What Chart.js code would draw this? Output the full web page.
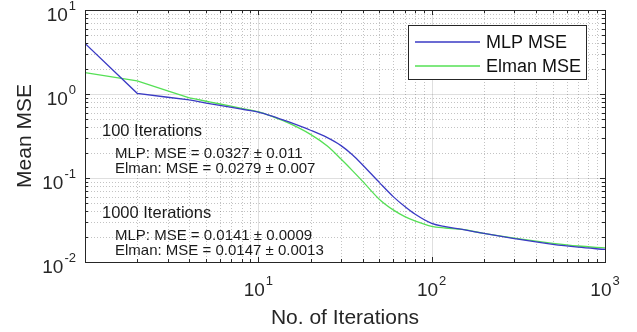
<!DOCTYPE html>
<html>
<head>
<meta charset="utf-8">
<script src="https://cdn.jsdelivr.net/npm/chart.js@4.4.0/dist/chart.umd.min.js"></script>
<style>
  html, body { margin: 0; padding: 0; background: #fff; }
  canvas { display: block; }
</style>
</head>
<body>
<canvas id="myChart" width="637" height="332"></canvas>
<script>
// values
const iterations = [1, 2, 3, 4, 5, 6, 8, 10, 12, 15, 20, 25, 30, 35, 40, 50, 60, 70, 80, 100, 120, 150, 200, 300, 500, 700, 1000];
const mlpMse   = [4.0, 1.02, 0.915, 0.85, 0.78, 0.73, 0.66, 0.61, 0.547, 0.465, 0.37, 0.302, 0.243, 0.188, 0.143, 0.088, 0.060, 0.0457, 0.0372, 0.0288, 0.0263, 0.0244, 0.0219, 0.0190, 0.0162, 0.0150, 0.0141];
const elmanMse = [1.8, 1.43, 1.09, 0.90, 0.82, 0.76, 0.676, 0.615, 0.54, 0.45, 0.331, 0.24, 0.168, 0.1216, 0.0912, 0.0556, 0.0417, 0.0347, 0.0309, 0.0266, 0.0254, 0.0244, 0.0219, 0.0192, 0.0167, 0.0155, 0.0147];
// the first few iterations are drawn as straight segments, the rest smooth
const straightUpTo = 3;

const seriesNames = ['MLP MSE', 'Elman MSE'];
const seriesColors = ['#3a3ac4', '#55e055'];

const xTickValues = [10, 100, 1000];
const xTickExps = ['1', '2', '3'];
const yTickValues = [0.01, 0.1, 1, 10];
const yTickExps = ['-2', '-1', '0', '1'];

const xTitle = 'No. of Iterations';
const yTitle = 'Mean MSE';

const noteHeads = ['100 Iterations', '1000 Iterations'];
const noteLines = [
  ['MLP: MSE = 0.0327 \u00b1 0.011', 'Elman: MSE = 0.0279 \u00b1 0.007'],
  ['MLP: MSE = 0.0141 \u00b1 0.0009', 'Elman: MSE = 0.0147 \u00b1 0.0013']
];

const FONT = '"Liberation Sans", Arial, Helvetica, sans-serif';
const TEXT = '#262626';

function minorValues(min, max) {
  let vals = [];
  for (let d = min; d < max * 0.999; d *= 10) {
    for (let k = 2; k <= 9; k++) vals.push(d * k);
  }
  return vals;
}

function crisp(v) { return Math.round(v) + 0.5; }

const matlabAxes = {
  id: 'matlabAxes',
  beforeDatasetsDraw(chart) {
    const ctx = chart.ctx, a = chart.chartArea;
    const xs = chart.scales.x, ys = chart.scales.y;
    ctx.save();
    // minor dotted grid
    ctx.strokeStyle = 'rgba(38,38,38,0.28)';
    ctx.lineWidth = 1;
    ctx.setLineDash([1, 2]);
    ctx.beginPath();
    minorValues(xs.min, xs.max).forEach(v => {
      const px = crisp(xs.getPixelForValue(v));
      ctx.moveTo(px, a.top); ctx.lineTo(px, a.bottom);
    });
    minorValues(ys.min, ys.max).forEach(v => {
      const py = crisp(ys.getPixelForValue(v));
      ctx.moveTo(a.left, py); ctx.lineTo(a.right, py);
    });
    ctx.stroke();
    // major grid
    ctx.setLineDash([]);
    ctx.strokeStyle = 'rgba(38,38,38,0.15)';
    ctx.beginPath();
    xTickValues.forEach(v => {
      const px = crisp(xs.getPixelForValue(v));
      ctx.moveTo(px, a.top); ctx.lineTo(px, a.bottom);
    });
    yTickValues.forEach(v => {
      const py = crisp(ys.getPixelForValue(v));
      ctx.moveTo(a.left, py); ctx.lineTo(a.right, py);
    });
    ctx.stroke();
    ctx.restore();
  },
  afterDatasetsDraw(chart) {
    const ctx = chart.ctx, a = chart.chartArea;
    const xs = chart.scales.x, ys = chart.scales.y;
    ctx.save();
    // box
    ctx.strokeStyle = TEXT;
    ctx.lineWidth = 1;
    ctx.strokeRect(crisp(a.left), crisp(a.top), Math.round(a.right - a.left), Math.round(a.bottom - a.top));

    // inward ticks on all four sides
    ctx.beginPath();
    const xMaj = [1].concat(xTickValues), yMaj = yTickValues;
    xMaj.forEach(v => {
      const px = crisp(xs.getPixelForValue(v));
      ctx.moveTo(px, a.bottom); ctx.lineTo(px, a.bottom - 5);
      ctx.moveTo(px, a.top); ctx.lineTo(px, a.top + 5);
    });
    minorValues(xs.min, xs.max).forEach(v => {
      const px = crisp(xs.getPixelForValue(v));
      ctx.moveTo(px, a.bottom); ctx.lineTo(px, a.bottom - 3);
      ctx.moveTo(px, a.top); ctx.lineTo(px, a.top + 3);
    });
    yMaj.forEach(v => {
      const py = crisp(ys.getPixelForValue(v));
      ctx.moveTo(a.left, py); ctx.lineTo(a.left + 5, py);
      ctx.moveTo(a.right, py); ctx.lineTo(a.right - 5, py);
    });
    minorValues(ys.min, ys.max).forEach(v => {
      const py = crisp(ys.getPixelForValue(v));
      ctx.moveTo(a.left, py); ctx.lineTo(a.left + 3, py);
      ctx.moveTo(a.right, py); ctx.lineTo(a.right - 3, py);
    });
    ctx.stroke();

    // tick labels as 10 with superscript exponent
    const baseFont = '19px ' + FONT, expFont = '13px ' + FONT;
    ctx.fillStyle = TEXT;
    ctx.textBaseline = 'alphabetic';
    ctx.textAlign = 'left';
    xTickValues.forEach((v, i) => {
      const px = xs.getPixelForValue(v);
      ctx.font = baseFont; const wb = ctx.measureText('10').width;
      ctx.font = expFont; const we = ctx.measureText(xTickExps[i]).width;
      const x0 = px - (wb + we + 1) / 2;
      ctx.font = baseFont; ctx.fillText('10', x0, a.bottom + 34);
      ctx.font = expFont; ctx.fillText(xTickExps[i], x0 + wb + 1, a.bottom + 23);
    });
    yTickValues.forEach((v, i) => {
      const py = ys.getPixelForValue(v);
      ctx.font = baseFont; const wb = ctx.measureText('10').width;
      ctx.font = expFont; const we = ctx.measureText(yTickExps[i]).width;
      const xr = a.left - 9;
      ctx.font = expFont; ctx.fillText(yTickExps[i], xr - we, py + 0);
      ctx.font = baseFont; ctx.fillText('10', xr - we - wb - 1, py + 11);
    });

    // axis titles
    ctx.font = '21px ' + FONT;
    ctx.textAlign = 'center';
    ctx.fillText(xTitle, (a.left + a.right) / 2, a.bottom + 62);
    ctx.save();
    ctx.translate(31, (a.top + a.bottom) / 2);
    ctx.rotate(-Math.PI / 2);
    ctx.fillText(yTitle, 0, 0);
    ctx.restore();

    // annotations
    ctx.textAlign = 'left';
    ctx.fillStyle = '#1a1a1a';
    const headY = [126, 208];
    noteHeads.forEach((h, i) => {
      ctx.font = '16.5px ' + FONT;
      ctx.fillText(h, a.left + 17, a.top + headY[i]);
      ctx.font = '15px ' + FONT;
      noteLines[i].forEach((t, j) => {
        ctx.fillText(t, a.left + 30, a.top + headY[i] + 22 + j * 15);
      });
    });

    // legend inside the north-east corner
    const lw = 178, lh = 54;
    const lx = a.right - 197, ly = a.top + 15;
    ctx.fillStyle = '#fff';
    ctx.fillRect(lx, ly, lw, lh);
    ctx.strokeStyle = TEXT;
    ctx.strokeRect(crisp(lx), crisp(ly), lw, lh);
    ctx.font = '18px ' + FONT;
    ctx.textBaseline = 'middle';
    seriesNames.forEach((name, i) => {
      const yy = ly + 17 + i * 24;
      ctx.strokeStyle = seriesColors[i];
      ctx.lineWidth = 1.3;
      ctx.beginPath();
      ctx.moveTo(lx + 7, yy); ctx.lineTo(lx + 72, yy);
      ctx.stroke();
      ctx.fillStyle = '#111';
      ctx.fillText(name, lx + 78, yy + 1);
    });
    ctx.restore();
  }
};

const toPoints = (ys, from, to) => iterations.slice(from, to).map((x, i) => ({ x: x, y: ys[from + i] }));

function seriesParts(name, ys, color) {
  return [
    { label: name, data: toPoints(ys, 0, straightUpTo + 1), borderColor: color, borderWidth: 1.3, pointRadius: 0, tension: 0 },
    { label: name, data: toPoints(ys, straightUpTo, iterations.length), borderColor: color, borderWidth: 1.3, pointRadius: 0, cubicInterpolationMode: 'monotone' }
  ];
}

const ctx = document.getElementById('myChart').getContext('2d');
const chart = new Chart(ctx, {
  type: 'line',
  data: {
    datasets: seriesParts(seriesNames[0], mlpMse, seriesColors[0])
      .concat(seriesParts(seriesNames[1], elmanMse, seriesColors[1]))
  },
  options: {
    responsive: false,
    animation: false,
    devicePixelRatio: 1,
    layout: { padding: { left: 85, right: 32, top: 10, bottom: 70 } },
    plugins: { legend: { display: false }, tooltip: { enabled: false } },
    scales: {
      x: { type: 'logarithmic', min: 1, max: 1000, display: false },
      y: { type: 'logarithmic', min: 0.01, max: 10, display: false }
    }
  },
  plugins: [matlabAxes]
});
</script>
</body>
</html>
